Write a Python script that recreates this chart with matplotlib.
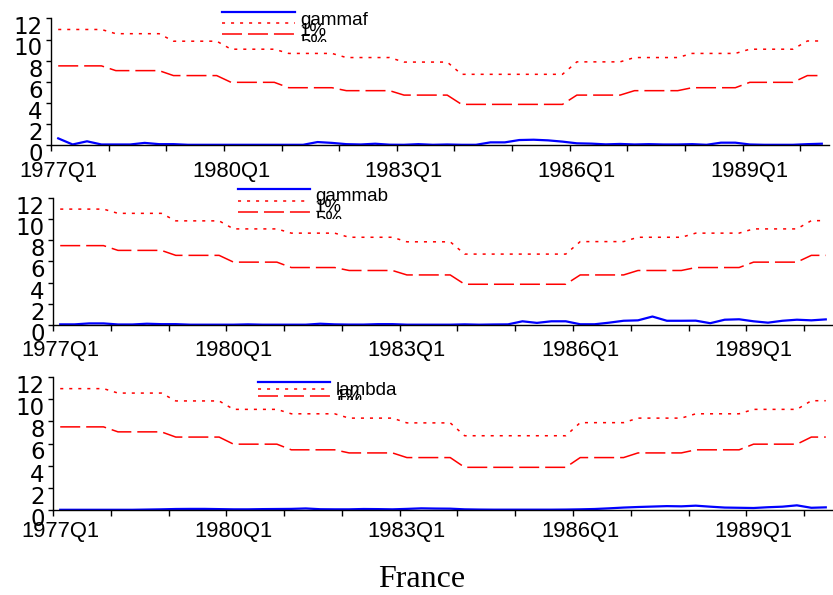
import matplotlib
matplotlib.use("Agg")
import matplotlib.pyplot as plt
from matplotlib.lines import Line2D
from matplotlib.transforms import Bbox, ScaledTranslation
import numpy as np

plt.rcParams['lines.scale_dashes'] = False

# ---------------- data ----------------
quarters = [f"{1977 + k // 4}Q{k % 4 + 1}" for k in range(54)]  # 1977Q1 .. 1990Q2
tick_labels = ["1977Q1", "1980Q1", "1983Q1", "1986Q1", "1989Q1"]

crit_1pct = [10.95, 10.95, 10.95, 10.95,
             10.55, 10.55, 10.55, 10.55,
             9.84, 9.84, 9.84, 9.84,
             9.08, 9.08, 9.08, 9.08,
             8.68, 8.68, 8.68, 8.68,
             8.29, 8.29, 8.29, 8.29,
             7.86, 7.86, 7.86, 7.86,
             6.70, 6.70, 6.70, 6.70, 6.70, 6.70, 6.70, 6.70,
             7.88, 7.88, 7.88, 7.88,
             8.29, 8.29, 8.29, 8.29,
             8.68, 8.68, 8.68, 8.68,
             9.08, 9.08, 9.08, 9.08,
             9.86, 9.86]
crit_5pct = [7.50, 7.50, 7.50, 7.50,
             7.05, 7.05, 7.05, 7.05,
             6.58, 6.58, 6.58, 6.58,
             5.94, 5.94, 5.94, 5.94,
             5.43, 5.43, 5.43, 5.43,
             5.15, 5.15, 5.15, 5.15,
             4.73, 4.73, 4.73, 4.73,
             3.85, 3.85, 3.85, 3.85, 3.85, 3.85, 3.85, 3.85,
             4.73, 4.73, 4.73, 4.73,
             5.15, 5.15, 5.15, 5.15,
             5.43, 5.43, 5.43, 5.43,
             5.94, 5.94, 5.94, 5.94,
             6.58, 6.58]

gammaf = [0.63, 0.05, 0.35, 0.05, 0.05, 0.05, 0.20, 0.08, 0.08, 0.02,
          0.02, 0.02, 0.02, 0.02, 0.02, 0.02, 0.02, 0.02, 0.28, 0.20,
          0.08, 0.05, 0.12, 0.03, 0.02, 0.08, 0.02, 0.05, 0.02, 0.02,
          0.25, 0.25, 0.47, 0.50, 0.44, 0.32, 0.16, 0.13, 0.06, 0.10,
          0.05, 0.08, 0.05, 0.05, 0.08, 0.02, 0.22, 0.22, 0.05, 0.02,
          0.02, 0.02, 0.08, 0.12]
gammab = [0.06, 0.06, 0.15, 0.15, 0.05, 0.05, 0.12, 0.08, 0.08, 0.03,
          0.03, 0.03, 0.03, 0.06, 0.03, 0.03, 0.03, 0.03, 0.12, 0.06,
          0.04, 0.04, 0.08, 0.08, 0.03, 0.03, 0.03, 0.03, 0.06, 0.03,
          0.05, 0.06, 0.35, 0.20, 0.35, 0.35, 0.07, 0.07, 0.22, 0.40,
          0.44, 0.80, 0.40, 0.40, 0.41, 0.17, 0.50, 0.54, 0.35, 0.22,
          0.40, 0.50, 0.44, 0.53]
lambda_ = [0.02, 0.02, 0.02, 0.02, 0.02, 0.02, 0.04, 0.06, 0.09, 0.10,
           0.10, 0.08, 0.06, 0.06, 0.08, 0.09, 0.10, 0.14, 0.07, 0.06,
           0.06, 0.09, 0.08, 0.06, 0.10, 0.15, 0.13, 0.12, 0.06, 0.04,
           0.03, 0.03, 0.03, 0.03, 0.03, 0.04, 0.06, 0.09, 0.15, 0.22,
           0.27, 0.31, 0.35, 0.33, 0.39, 0.30, 0.22, 0.20, 0.18, 0.25,
           0.30, 0.42, 0.20, 0.24]

series = [("gammaf", gammaf), ("gammab", gammab), ("lambda", lambda_)]
labels_crit = ["1%", "5%"]

# ---------------- layout ----------------
W, H = 833, 595
fig = plt.figure(figsize=(W / 100, H / 100), dpi=100)

# (left, right, top, bottom) in pixels, x-label pad (pt)
panel_px = [(51, 829, 18.4, 145, 11.3), (53, 833, 198, 325, 10.5), (53, 833, 377, 510, 8.0)]
# legend: line x0, x1, text x, first line y, row spacing, text offset, clip bottom
legend_px = [(222, 295, 300, 12, 11.0, 13, 42),
             (238, 310, 315, 189.3, 11.5, 11.5, 219),
             (258, 330, 336, 382.3, 7.0, 12.7, 400)]

BLUE = (0, 0, 1)
RED = (1, 0, 0)
dot_style = dict(color=RED, lw=1.1, dashes=(2.2, 4.3))
dash_style = dict(color=RED, lw=1.1, dashes=(14.4, 4.3))
blue_style = dict(color=BLUE, lw=1.6)

x = np.arange(len(quarters))

for (name, vals), (l, r, t, b, xpad), (lx0, lx1, tx, ly0, sp, toff, clipb) in zip(series, panel_px, legend_px):
    ax = fig.add_axes([l / W, 1 - b / H, (r - l) / W, (b - t) / H])
    ax.plot(x, vals, **blue_style)
    ax.plot(x, crit_1pct, **dot_style)
    ax.plot(x, crit_5pct, **dash_style)
    ax.set_xlim(-0.5, len(quarters) - 0.5)
    ax.set_ylim(0, 12)
    for s in ("top", "right"):
        ax.spines[s].set_visible(False)
    ax.spines["left"].set_linewidth(1.0)
    ax.spines["bottom"].set_linewidth(1.0)

    # x: labels at observation, tick marks at year boundaries
    ax.set_xticks([quarters.index(q) for q in tick_labels])
    ax.set_xticklabels(tick_labels, fontfamily="Liberation Sans", fontsize=15.8)
    ax.tick_params(axis="x", which="major", length=0, pad=xpad)
    ax.set_xticks(np.arange(-0.5, len(quarters) - 1, 4), minor=True)
    ax.tick_params(axis="x", which="minor", length=4, width=1, direction="out")

    ax.set_yticks(np.arange(0, 13, 2))
    ax.set_yticklabels([str(v) for v in range(0, 13, 2)], fontfamily="DejaVu Sans", fontsize=16.5)
    ax.tick_params(axis="y", length=3.5, width=1, pad=2.5)
    for lab in ax.get_yticklabels():
        lab.set_transform(lab.get_transform() + ScaledTranslation(0, -5 / 72, fig.dpi_scale_trans))

    # legend (drawn manually to reproduce overlapping rows)
    clip = Bbox.from_extents(0, H - clipb, W, H)
    styles = [blue_style, dot_style, dash_style]
    texts = [name] + labels_crit
    for k, (st, txt) in enumerate(zip(styles, texts)):
        yy = ly0 + k * sp
        fig.add_artist(Line2D([lx0 / W, lx1 / W], [1 - yy / H, 1 - yy / H],
                              transform=fig.transFigure, **st))
        tobj = fig.text(tx / W, 1 - (yy + toff) / H, txt, fontfamily="Liberation Sans",
                        fontsize=13.5, va="baseline", ha="left")
        tobj.set_clip_box(clip)
        tobj.set_clip_on(True)

fig.text(421.5 / W, 1 - 587 / H, "France", fontfamily="Liberation Serif",
         fontsize=23, ha="center", va="baseline")

fig.savefig("out.png", dpi=100)
